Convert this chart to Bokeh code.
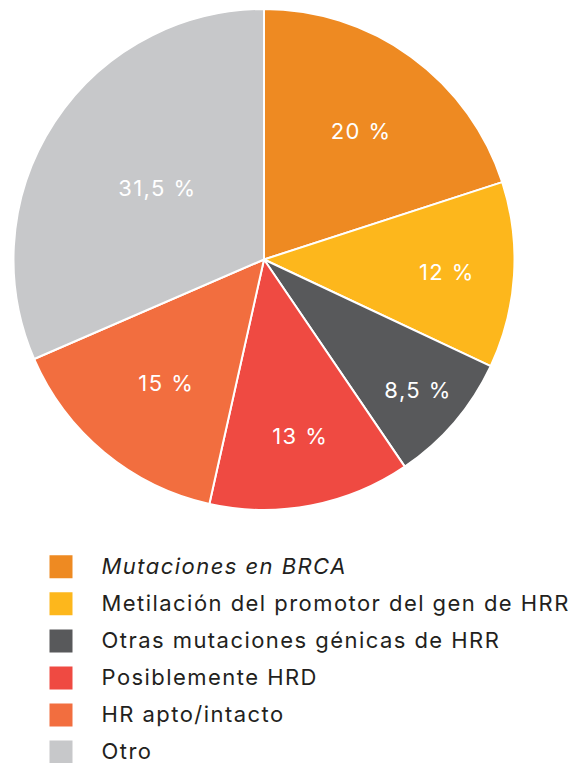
import math
from bokeh.plotting import figure
from bokeh.models import ColumnDataSource, Range1d
from bokeh.core.properties import value
from bokeh.embed import file_html
from bokeh.resources import INLINE

categories = ["Mutaciones en BRCA", "Metilación del promotor del gen de HRR",
              "Otras mutaciones génicas de HRR", "Posiblemente HRD",
              "HR apto/intacto", "Otro"]
shares = [20, 12, 8.5, 13, 15, 31.5]
colors = ["#EE8A22", "#FDB71C", "#58595B", "#EF4A42", "#F26E3F", "#C7C8CA"]
label_radius_frac = [0.64, 0.72, 0.79, 0.71, 0.63, 0.53]

W, H = 578, 763
p = figure(width=W, height=H, output_backend="svg", toolbar_location=None,
           x_range=Range1d(0, W), y_range=Range1d(0, H), min_border=0)
p.axis.visible = False
p.grid.visible = False
p.outline_line_color = None
p.background_fill_color = "white"
p.styles = {"letter-spacing": "1.45px"}

cx, cy, R = 263.5, H - 259, 250.5
total = sum(shares)
starts, ends, lx, ly, labels = [], [], [], [], []
cum = 0.0
for s, f in zip(shares, label_radius_frac):
    a0 = math.pi / 2 - cum / total * 2 * math.pi
    cum += s
    a1 = math.pi / 2 - cum / total * 2 * math.pi
    starts.append(a1)
    ends.append(a0)
    mid = (a0 + a1) / 2
    lx.append(cx + R * f * math.cos(mid))
    ly.append(cy + R * f * math.sin(mid) - 1.5)
    labels.append(f"{s:g}".replace(".", ",") + " %")

src = ColumnDataSource(dict(start=starts, end=ends, color=colors, lx=lx, ly=ly, label=labels))
p.wedge(x=cx, y=cy, radius=R, start_angle="start", end_angle="end",
        direction="anticlock", fill_color="color", line_color="white",
        line_width=2, source=src)
p.text(x="lx", y="ly", text="label", source=src, text_color="white",
       text_font=value("Inter"), text_font_size="22px",
       text_align="center", text_baseline="middle")

# legend
row0 = H - 566.3
step = 37.05
ys = [row0 - i * step for i in range(len(categories))]
p.rect(x=[60.5] * len(categories), y=ys, width=23, height=23, fill_color=colors,
       line_color=None)
styles = ["italic"] + ["normal"] * (len(categories) - 1)
lsrc = ColumnDataSource(dict(x=[101] * len(categories), y=[v + 1 for v in ys],
                             t=categories, st=styles))
p.text(x="x", y="y", text="t", text_font_style="st", source=lsrc,
       text_color="#231F20", text_font=value("Inter"), text_font_size="22px",
       text_align="left", text_baseline="middle")

open("out.html", "w").write(file_html(p, INLINE))
